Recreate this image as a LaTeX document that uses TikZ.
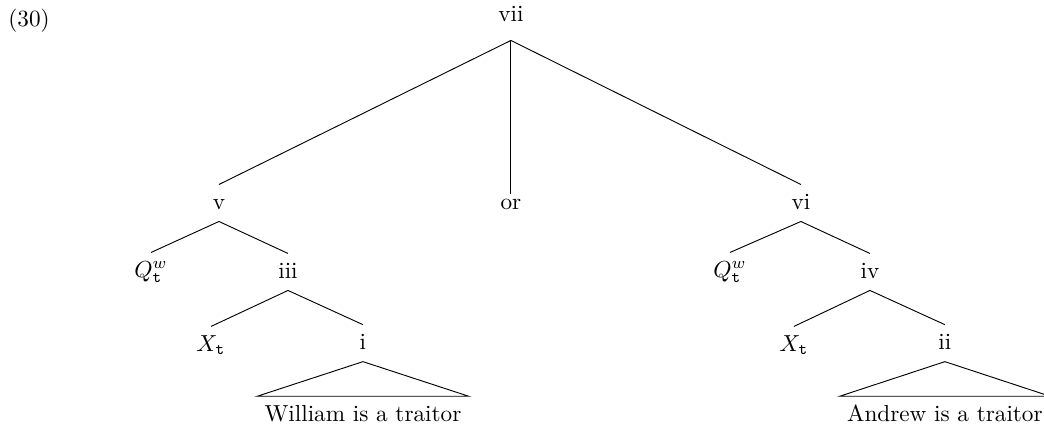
\documentclass[tikz,border=0pt]{standalone}
\usepackage{amsmath,amssymb}
\usepackage{tikz}

\begin{document}
\begin{tikzpicture}[tn/.style={inner xsep=3pt,inner ysep=4pt,text height=1.5ex,text depth=.25ex}]
  \useasboundingbox (0,0) rectangle (15.82,-6.5);
  \node[anchor=base west,inner sep=0pt] (ex) at (0.12,-0.40) {(30)};
  \node[tn,inner ysep=7pt] (vii) at (7.742,-0.227) {vii};
  \node[tn] (v) at (3.318,-3.076) {v};
  \node[tn] (or) at (7.742,-3.076) {or};
  \node[tn] (vi) at (12.136,-3.076) {vi};
  \node[tn] (qa) at (2.288,-4.106) {$Q^w_{\mathtt{t}}$};
  \node[tn] (iii) at (4.364,-4.121) {iii};
  \node[tn] (qb) at (11.061,-4.106) {$Q^w_{\mathtt{t}}$};
  \node[tn] (iv) at (13.182,-4.121) {iv};
  \node[tn] (xa) at (3.197,-5.227) {$X_{\mathtt{t}}$};
  \node[tn] (i) at (5.5,-5.200) {i};
  \node[tn] (xb) at (12.030,-5.227) {$X_{\mathtt{t}}$};
  \node[tn] (ii) at (14.318,-5.200) {ii};
  \node[tn] (wit) at (5.5,-6.285) {William is a traitor};
  \node[tn] (ait) at (14.318,-6.285) {Andrew is a traitor};
  % top level
  \draw (vii.south)--(v.north);
  \draw[shorten >=-3.9pt] (vii.south)--(or.north);
  \draw (vii.south)--(vi.north);
  % left disjunct
  \draw (v.south)--(qa.north);
  \draw (v.south)--(iii.north);
  \draw (iii.south)--(xa.north);
  \draw (iii.south)--(i.north);
  \draw (i.south)--(wit.north west)--(wit.north east)--cycle;
  % right disjunct
  \draw (vi.south)--(qb.north);
  \draw (vi.south)--(iv.north);
  \draw (iv.south)--(xb.north);
  \draw (iv.south)--(ii.north);
  \draw (ii.south)--(ait.north west)--(ait.north east)--cycle;
\end{tikzpicture}
\end{document}
